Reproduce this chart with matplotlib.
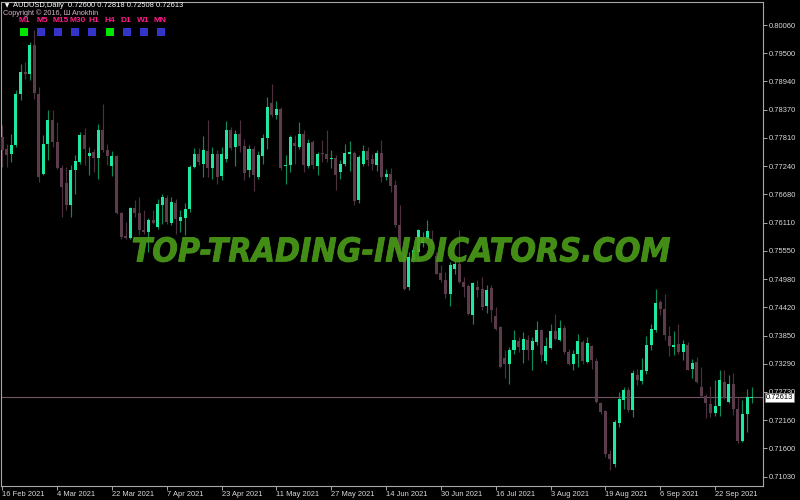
import matplotlib
matplotlib.use("Agg")
import matplotlib.pyplot as plt
import matplotlib.transforms as mtrans
from matplotlib.textpath import TextPath
from matplotlib.patches import PathPatch, Rectangle
from matplotlib.font_manager import FontProperties

# daily AUDUSD candles, 16 Feb 2021 .. 30 Sep 2021
opens = [
    .7783, .7759, .7748, .7766, .7869, .7913, .7908, .7966, .7869, .7708,
    .7768, .7817, .7772, .7721, .7691, .7646, .7716, .7733, .7787, .7745,
    .7752, .7741, .7796, .7756, .7724, .7744, .7631, .7584, .7581, .7641,
    .7631, .7596, .7593, .7616, .7603, .7646, .7661, .7611, .7651, .7615,
    .7621, .7638, .7723, .7749, .7729, .7755, .7721, .7749, .7704, .7739,
    .7796, .7763, .7788, .7764, .7716, .7758, .7703, .7744, .7781, .7851,
    .7826, .7839, .7724, .7727, .7771, .7763, .7788, .7725, .7773, .7725,
    .7751, .7749, .7739, .7741, .7713, .7729, .7749, .7751, .7656, .7728,
    .7754, .7738, .7727, .7751, .7703, .7709, .7686, .7606, .7549, .7483,
    .7536, .7553, .7571, .7579, .7579, .7544, .7511, .7497, .7468, .7519,
    .7529, .7493, .7484, .7426, .7483, .7479, .7444, .7481, .7424, .7403,
    .7341, .7328, .7356, .7375, .7357, .7377, .7356, .7373, .7396, .7335,
    .7361, .7394, .7377, .7401, .7353, .7328, .7348, .7373, .7333, .7364,
    .7335, .7251, .7235, .7149, .7128, .7211, .7256, .7277, .7236, .7306,
    .7295, .7315, .7366, .7397, .7453, .7439, .7385, .7363, .7368, .7353,
    .7367, .7319, .7333, .7283, .7264, .7249, .7231, .7244, .7293, .7253,
    .7288, .7239, .7175, .7228, .72600,
]
highs = [
    .7806, .7769, .7789, .7876, .7929, .7933, .7973, .7996, .7883, .7786,
    .7837, .7836, .7813, .7726, .7723, .7726, .7746, .7793, .7801, .7763,
    .7759, .7809, .7849, .7769, .7755, .7746, .7633, .7613, .7643, .7656,
    .7663, .7636, .7621, .7636, .7659, .7669, .7666, .7663, .7659, .7636,
    .7651, .7726, .7761, .7760, .7784, .7816, .7763, .7757, .7763, .7815,
    .7803, .7796, .7817, .7779, .7766, .7764, .7754, .7788, .7863, .7889,
    .7855, .7843, .7746, .7786, .7786, .7813, .7796, .7779, .7776, .7753,
    .7776, .7796, .7756, .7746, .7736, .7768, .7774, .7754, .7746, .7766,
    .7763, .7749, .7756, .7776, .7719, .7721, .7696, .7646, .7556, .7553,
    .7563, .7599, .7593, .7617, .7596, .7553, .7526, .7513, .7533, .7537,
    .7597, .7503, .7489, .7493, .7496, .7503, .7486, .7486, .7443, .7404,
    .7357, .7363, .7397, .7383, .7393, .7386, .7383, .7415, .7399, .7383,
    .7409, .7428, .7416, .7406, .7359, .7356, .7389, .7376, .7383, .7366,
    .7341, .7253, .7236, .7157, .7216, .7273, .7283, .7283, .7317, .7319,
    .7341, .7385, .7409, .7479, .7456, .7468, .7404, .7395, .7409, .7376,
    .7373, .7339, .7343, .7323, .7269, .7284, .7297, .7316, .7317, .7306,
    .7311, .7264, .7257, .7278, .72818,
]
lows = [
    .7723, .7723, .7733, .7763, .7856, .7899, .7896, .7859, .7693, .7706,
    .7736, .7763, .7719, .7623, .7636, .7623, .7669, .7729, .7726, .7706,
    .7713, .7699, .7753, .7726, .7705, .7629, .7579, .7579, .7579, .7623,
    .7586, .7589, .7552, .7609, .7598, .7609, .7609, .7606, .7589, .7593,
    .7586, .7633, .7721, .7727, .7703, .7703, .7698, .7689, .7696, .7733,
    .7756, .7725, .7753, .7696, .7703, .7674, .7699, .7729, .7759, .7823,
    .7819, .7717, .7688, .7713, .7729, .7759, .7713, .7721, .7719, .7706,
    .7733, .7733, .7721, .7677, .7699, .7724, .7715, .7646, .7651, .7725,
    .7724, .7716, .7715, .7693, .7696, .7673, .7603, .7547, .7477, .7476,
    .7533, .7536, .7563, .7576, .7563, .7508, .7493, .7461, .7444, .7509,
    .7491, .7463, .7426, .7409, .7463, .7436, .7431, .7413, .7396, .7321,
    .7301, .7289, .7349, .7353, .7331, .7336, .7317, .7366, .7333, .7329,
    .7359, .7376, .7375, .7349, .7326, .7316, .7323, .7329, .7331, .7319,
    .7251, .7229, .7143, .7116, .7123, .7203, .7239, .7233, .7223, .7286,
    .7288, .7309, .7356, .7393, .7426, .7376, .7344, .7346, .7349, .7336,
    .7316, .7301, .7291, .7263, .7221, .7223, .7224, .7224, .7259, .7251,
    .7226, .7171, .7173, .7193, .72508,
]
closes = [
    .7756, .7746, .7766, .7868, .7913, .7908, .7966, .7871, .7703, .7768,
    .7817, .7773, .7721, .7683, .7646, .7716, .7734, .7787, .7758, .7751,
    .7741, .7796, .7756, .7745, .7745, .7631, .7583, .7581, .7641, .7631,
    .7596, .7593, .7617, .7611, .7649, .7663, .7613, .7653, .7618, .7623,
    .7639, .7723, .7749, .7733, .7756, .7721, .7749, .7703, .7749, .7797,
    .7761, .7788, .7764, .7711, .7759, .7706, .7746, .7781, .7843, .7827,
    .7839, .7721, .7727, .7783, .7764, .7789, .7726, .7771, .7726, .7749,
    .7748, .7739, .7741, .7707, .7729, .7751, .7753, .7654, .7743, .7754,
    .7736, .7728, .7751, .7703, .7709, .7684, .7606, .7549, .7479, .7543,
    .7556, .7596, .7581, .7594, .7566, .7509, .7496, .7469, .7526, .7528,
    .7493, .7483, .7429, .7491, .7476, .7443, .7477, .7437, .7399, .7323,
    .7329, .7357, .7376, .7363, .7379, .7357, .7375, .7396, .7346, .7364,
    .7394, .7378, .7401, .7353, .7328, .7349, .7374, .7335, .7371, .7336,
    .7253, .7233, .7148, .7139, .7213, .7259, .7277, .7236, .7311, .7296,
    .7316, .7366, .7399, .7451, .7439, .7386, .7364, .7366, .7353, .7368,
    .7317, .7331, .7293, .7264, .7251, .7231, .7245, .7296, .7263, .7288,
    .7239, .7175, .7228, .7263, .72613,
]

date_ticks = [0, 12, 24, 36, 48, 60, 72, 84, 96, 108, 120, 132, 144, 156]
date_labels = ["16 Feb 2021", "4 Mar 2021", "22 Mar 2021", "7 Apr 2021",
               "23 Apr 2021", "11 May 2021", "27 May 2021", "14 Jun 2021",
               "30 Jun 2021", "16 Jul 2021", "3 Aug 2021", "19 Aug 2021",
               "6 Sep 2021", "22 Sep 2021"]
price_ticks = [0.80060, 0.79500, 0.78940, 0.78370, 0.77810, 0.77240, 0.76680,
               0.76110, 0.75550, 0.74980, 0.74420, 0.73850, 0.73290, 0.72730,
               0.72160, 0.71600, 0.71030]

timeframes = ["M1", "M5", "M15", "M30", "H1", "H4", "D1", "W1", "MN"]
tf_x = [24, 42, 60.5, 78, 94, 110, 126, 143, 160]
sq_x = [24, 41, 58, 75, 92, 110, 127, 144, 161]
tf_active = ["M1", "H4"]

BULL = "#1ee8a2"
BULL_WICK = "#0c8a58"
BEAR = "#5c3c4c"
BEAR_WICK = "#4c3040"
FRAME = "#a8a8a8"
TXT = "#dadada"
small = "Liberation Sans"

W, H = 800, 500
fig = plt.figure(figsize=(8, 5), dpi=100, facecolor="black")
ax = fig.add_axes([1 / W, 14 / H, 762 / W, 484 / H], facecolor="black")

n = len(opens)
xs = list(range(n))
for i in xs:
    o, hi, lo, c = opens[i], highs[i], lows[i], closes[i]
    up = c >= o
    ax.vlines(i, lo, hi, color=BULL_WICK if up else BEAR_WICK, lw=0.85, zorder=2)
    h = max(abs(c - o), 0.00012)
    ax.bar(i, h, bottom=min(o, c), width=0.66, color=BULL if up else BEAR,
           linewidth=0, zorder=3)

last = closes[-1]
ax.axhline(last, color="#6e5664", lw=0.8, zorder=1)

ax.set_xlim(-0.28, 166.5)
ax.set_ylim(0.7084, 0.8052)

for s in ax.spines.values():
    s.set_color(FRAME)
    s.set_linewidth(0.8)

ax.yaxis.tick_right()
ax.set_yticks(price_ticks)
ax.set_yticklabels(["%.5f" % v for v in price_ticks])
ax.set_xticks(date_ticks)
ax.set_xticklabels(date_labels)
ax.tick_params(axis="both", colors=FRAME, length=3, width=0.7, pad=1,
               labelsize=5.4, labelcolor=TXT)
ax.tick_params(axis="x", pad=0.5)
for lb in ax.get_xticklabels() + ax.get_yticklabels():
    lb.set_fontfamily(small)
for lb in ax.get_xticklabels():
    lb.set_ha("left")

ax.text(1.004, last, "%.5f" % last, transform=ax.get_yaxis_transform(),
        fontsize=5.4, family=small, color="black", va="center", ha="left",
        bbox=dict(facecolor="white", edgecolor="#808080", pad=0.8, lw=0.5),
        zorder=6, clip_on=False)

# header texts, placed in pixel terms
def fx(x):
    return x / W

def fy(y):
    return 1 - y / H

fig.text(fx(5), fy(5.5), "\u25bc", fontsize=4, color="white", va="center",
         family="DejaVu Sans")
fig.text(fx(13), fy(5.5), "AUDUSD,Daily  0.72600 0.72818 0.72508 0.72613",
         fontsize=5.4, color="white", va="center", family=small)
fig.text(fx(3), fy(13.2), "Copyright \u00a9 2016, \u0428 Anokhin", fontsize=5.2,
         color="#d8b4cc", va="center", family=[small, "DejaVu Sans"])
for name, x in zip(timeframes, tf_x):
    fig.text(fx(x), fy(20.8), name, fontsize=6.0, color="#ff1a8c", weight="bold",
             ha="center", va="center", family=small)
for name, x in zip(timeframes, sq_x):
    col = "#00e600" if name in tf_active else "#3434c8"
    fig.add_artist(Rectangle((fx(x - 4), fy(36)), 8 / W, 8 / H,
                             transform=fig.transFigure, facecolor=col,
                             edgecolor="none"))

# watermark, stretched into its box (x 133..670, y 237..262 px)
tp = TextPath((0, 0), "TOP-TRADING-INDICATORS.COM", size=40,
              prop=FontProperties(family="DejaVu Sans", weight="bold",
                                  style="italic"))
ext = tp.get_extents()
tr = (mtrans.Affine2D().translate(-ext.x0, -ext.y0)
      .scale(537 / ext.width, 25 / ext.height)
      .translate(133, H - 262))
fig.add_artist(PathPatch(tp, transform=tr, facecolor="#4a9a18",
                         edgecolor="#4a9a18", lw=0.6, alpha=0.92, zorder=10))

fig.savefig("out.png", dpi=100, facecolor="black")
